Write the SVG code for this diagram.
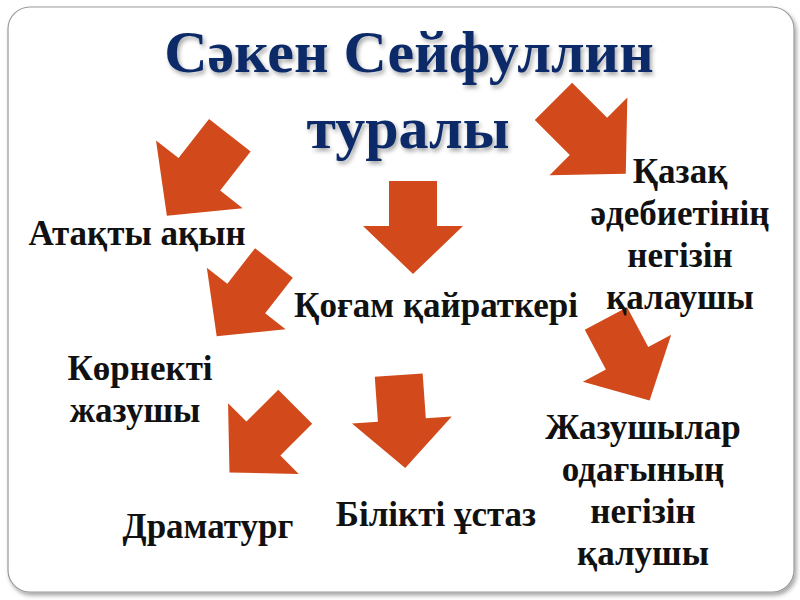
<svg xmlns="http://www.w3.org/2000/svg" width="800" height="600" viewBox="0 0 800 600">
<defs>
<path id="arr" d="M-24,-47 H24 V-2 H50 L0,46 L-50,-2 H-24 Z"/>
<filter id="sh" x="-10%" y="-10%" width="130%" height="130%"><feDropShadow dx="2" dy="3" stdDeviation="2" flood-color="#000" flood-opacity="0.35"/></filter>
</defs>
<style>
.a{fill:#D24A1B}
.t{font-family:"Liberation Serif",serif;font-weight:bold;font-size:35px;fill:#111;text-anchor:middle}
.h{font-family:"Liberation Serif",serif;font-weight:bold;font-size:60px;fill:#0E2A68;text-anchor:middle}
</style>
<rect width="800" height="600" fill="#fff"/>
<rect x="8" y="7" width="786" height="585" rx="22" fill="#fff" stroke="#9a9a9a" stroke-width="1.2" filter="url(#sh)"/>
<g id="title" filter="url(#sh)">
<text class="h" x="409" y="72">Сәкен Сейфуллин</text>
<text class="h" x="408" y="148">туралы</text>
</g>
<g id="connectors">
<use href="#arr" class="a" transform="translate(198,176) rotate(38) scale(1.1)"/>
<use href="#arr" class="a" transform="translate(590,138) rotate(-45) scale(1.1)"/>
<use href="#arr" class="a" transform="translate(413,228)"/>
<use href="#arr" class="a" transform="translate(245,300) rotate(38)"/>
<use href="#arr" class="a" transform="translate(628,360) rotate(-28)"/>
<use href="#arr" class="a" transform="translate(262,440) rotate(45)"/>
<use href="#arr" class="a" transform="translate(402,422) rotate(-4)"/>
</g>
<g id="n1"><text class="t" x="137" y="245">Атақты ақын</text></g>
<g id="n2"><text class="t" x="680" y="183">Қазақ</text><text class="t" x="680" y="225">әдебиетінің</text><text class="t" x="680" y="267">негізін</text><text class="t" x="680" y="309">қалаушы</text></g>
<g id="n3"><text class="t" x="436" y="317">Қоғам қайраткері</text></g>
<g id="n4"><text class="t" x="140" y="380">Көрнекті</text><text class="t" x="135" y="422">жазушы</text></g>
<g id="n5"><text class="t" x="643" y="439">Жазушылар</text><text class="t" x="643" y="481">одағының</text><text class="t" x="643" y="523">негізін</text><text class="t" x="643" y="565">қалушы</text></g>
<g id="n6"><text class="t" x="208" y="538">Драматург</text></g>
<g id="n7"><text class="t" x="436" y="526">Білікті ұстаз</text></g>
</svg>
